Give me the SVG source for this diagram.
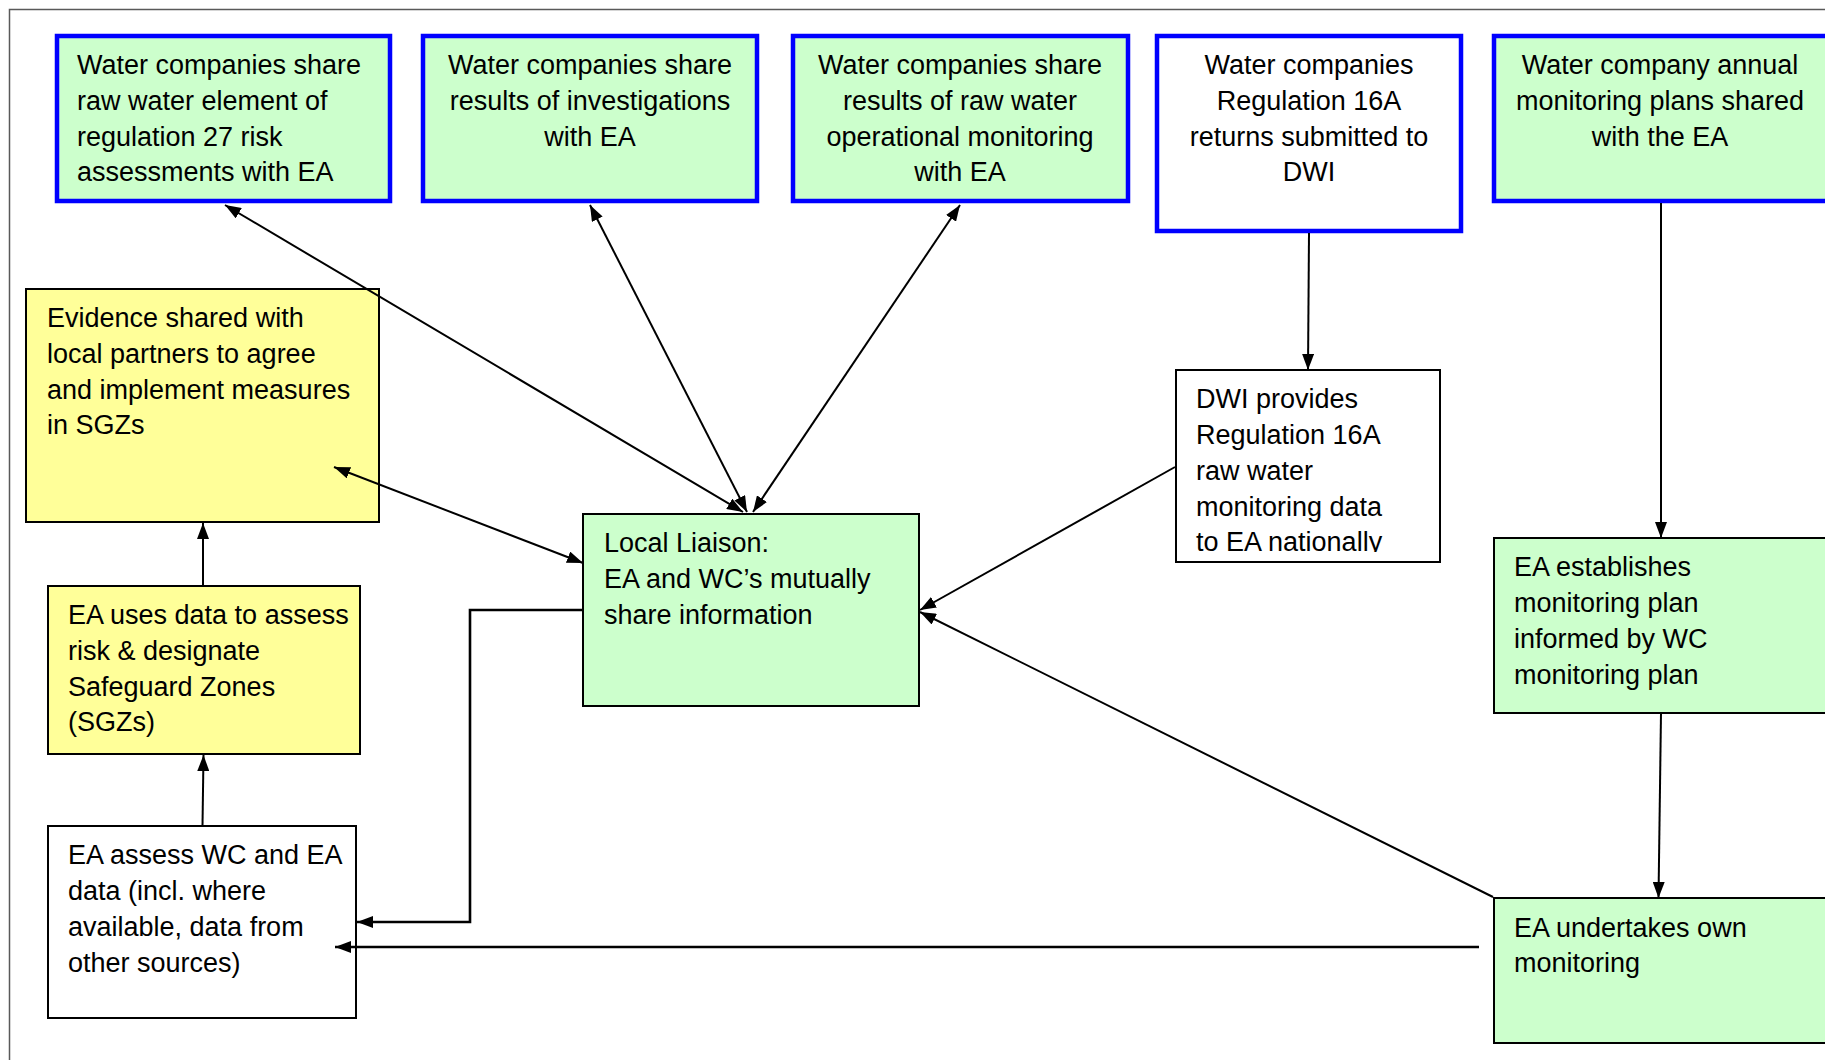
<svg xmlns="http://www.w3.org/2000/svg" width="1825" height="1060" viewBox="0 0 1825 1060">
<style>
  .frame{fill:none;stroke:#595959;stroke-width:1.5}
  .bg{fill:#CCFFCC;stroke:#0000FF;stroke-width:4.5}
  .bw{fill:#FFFFFF;stroke:#0000FF;stroke-width:4.5}
  .g{fill:#CCFFCC;stroke:#000;stroke-width:2}
  .y{fill:#FFFF99;stroke:#000;stroke-width:2}
  .w{fill:#FFFFFF;stroke:#000;stroke-width:2}
  text{font-family:"Liberation Sans",Arial,sans-serif;font-size:27px;fill:#000}
  .c{text-anchor:middle}
  #connectors line,#connectors path{stroke:#000;stroke-width:2;fill:none}
  #connectors .thick{stroke-width:2.6}
</style>
<defs>
  <marker id="arr" viewBox="0 0 16 12" refX="16" refY="6" markerWidth="16" markerHeight="12" markerUnits="userSpaceOnUse" orient="auto-start-reverse">
    <path d="M0,0 L16,6 L0,12 z" fill="#000"/>
  </marker>
  <clipPath id="dwiclip"><rect x="1176" y="370" width="264" height="182"/></clipPath>
</defs>
<rect width="1825" height="1060" fill="#FFFFFF"/>
<rect class="frame" x="9.5" y="9.5" width="1830" height="1070"/>

<g id="n1"><rect class="bg" x="57" y="36" width="333" height="165"/>
<text x="77" y="74">Water companies share</text><text x="77" y="110">raw water element of</text><text x="77" y="146">regulation 27 risk</text><text x="77" y="181">assessments with EA</text></g>

<g id="n2"><rect class="bg" x="423" y="36" width="334" height="165"/>
<text class="c" x="590" y="74">Water companies share</text><text class="c" x="590" y="110">results of investigations</text><text class="c" x="590" y="146">with EA</text></g>

<g id="n3"><rect class="bg" x="793" y="36" width="335" height="165"/>
<text class="c" x="960" y="74">Water companies share</text><text class="c" x="960" y="110">results of raw water</text><text class="c" x="960" y="146">operational monitoring</text><text class="c" x="960" y="181">with EA</text></g>

<g id="n4"><rect class="bw" x="1157" y="36" width="304" height="195"/>
<text class="c" x="1309" y="74">Water companies</text><text class="c" x="1309" y="110">Regulation 16A</text><text class="c" x="1309" y="146">returns submitted to</text><text class="c" x="1309" y="181">DWI</text></g>

<g id="n5"><rect class="bg" x="1494" y="36" width="340" height="165"/>
<text class="c" x="1660" y="74">Water company annual</text><text class="c" x="1660" y="110">monitoring plans shared</text><text class="c" x="1660" y="146">with the EA</text></g>

<g id="n6"><rect class="y" x="26" y="289" width="353" height="233"/>
<text x="47" y="327">Evidence shared with</text><text x="47" y="363">local partners to agree</text><text x="47" y="399">and implement measures</text><text x="47" y="434">in SGZs</text></g>

<g id="n7"><rect class="y" x="48" y="586" width="312" height="168"/>
<text x="68" y="624">EA uses data to assess</text><text x="68" y="660">risk &amp; designate</text><text x="68" y="696">Safeguard Zones</text><text x="68" y="731">(SGZs)</text></g>

<g id="n8"><rect class="g" x="583" y="514" width="336" height="192"/>
<text x="604" y="552">Local Liaison:</text><text x="604" y="588">EA and WC’s mutually</text><text x="604" y="624">share information</text></g>

<g id="n9"><rect class="w" x="1176" y="370" width="264" height="192"/>
<g clip-path="url(#dwiclip)"><text x="1196" y="408">DWI provides</text><text x="1196" y="444">Regulation 16A</text><text x="1196" y="480">raw water</text><text x="1196" y="516">monitoring data</text><text x="1196" y="551">to EA nationally</text></g></g>

<g id="n10"><rect class="g" x="1494" y="538" width="340" height="175"/>
<text x="1514" y="576">EA establishes</text><text x="1514" y="612">monitoring plan</text><text x="1514" y="648">informed by WC</text><text x="1514" y="684">monitoring plan</text></g>

<g id="n11"><rect class="w" x="48" y="826" width="308" height="192"/>
<text x="68" y="864">EA assess WC and EA</text><text x="68" y="900">data (incl. where</text><text x="68" y="936">available, data from</text><text x="68" y="972">other sources)</text></g>

<g id="n12"><rect class="g" x="1494" y="898" width="340" height="145"/>
<text x="1514" y="937">EA undertakes own</text><text x="1514" y="972">monitoring</text></g>

<g id="connectors">
  <line x1="225" y1="205" x2="743" y2="512" marker-start="url(#arr)" marker-end="url(#arr)"/>
  <line x1="590" y1="205" x2="747" y2="512" marker-start="url(#arr)" marker-end="url(#arr)"/>
  <line x1="960" y1="205" x2="753" y2="512" marker-start="url(#arr)" marker-end="url(#arr)"/>
  <line x1="334" y1="467" x2="583" y2="563" marker-start="url(#arr)" marker-end="url(#arr)"/>
  <line x1="203" y1="586" x2="203" y2="523" marker-end="url(#arr)"/>
  <line x1="202.5" y1="826" x2="203.5" y2="755" marker-end="url(#arr)"/>
  <path class="thick" d="M583,610 H470 V922 H357" marker-end="url(#arr)"/>
  <line class="thick" x1="1479" y1="947" x2="335" y2="947" marker-end="url(#arr)"/>
  <line x1="1493" y1="897" x2="920" y2="612" marker-end="url(#arr)"/>
  <line x1="1175" y1="467" x2="920" y2="610" marker-end="url(#arr)"/>
  <line x1="1309" y1="233" x2="1308" y2="370" marker-end="url(#arr)"/>
  <line x1="1661" y1="203" x2="1661" y2="538" marker-end="url(#arr)"/>
  <line x1="1661" y1="713" x2="1658.5" y2="898" marker-end="url(#arr)"/>
</g>
</svg>
